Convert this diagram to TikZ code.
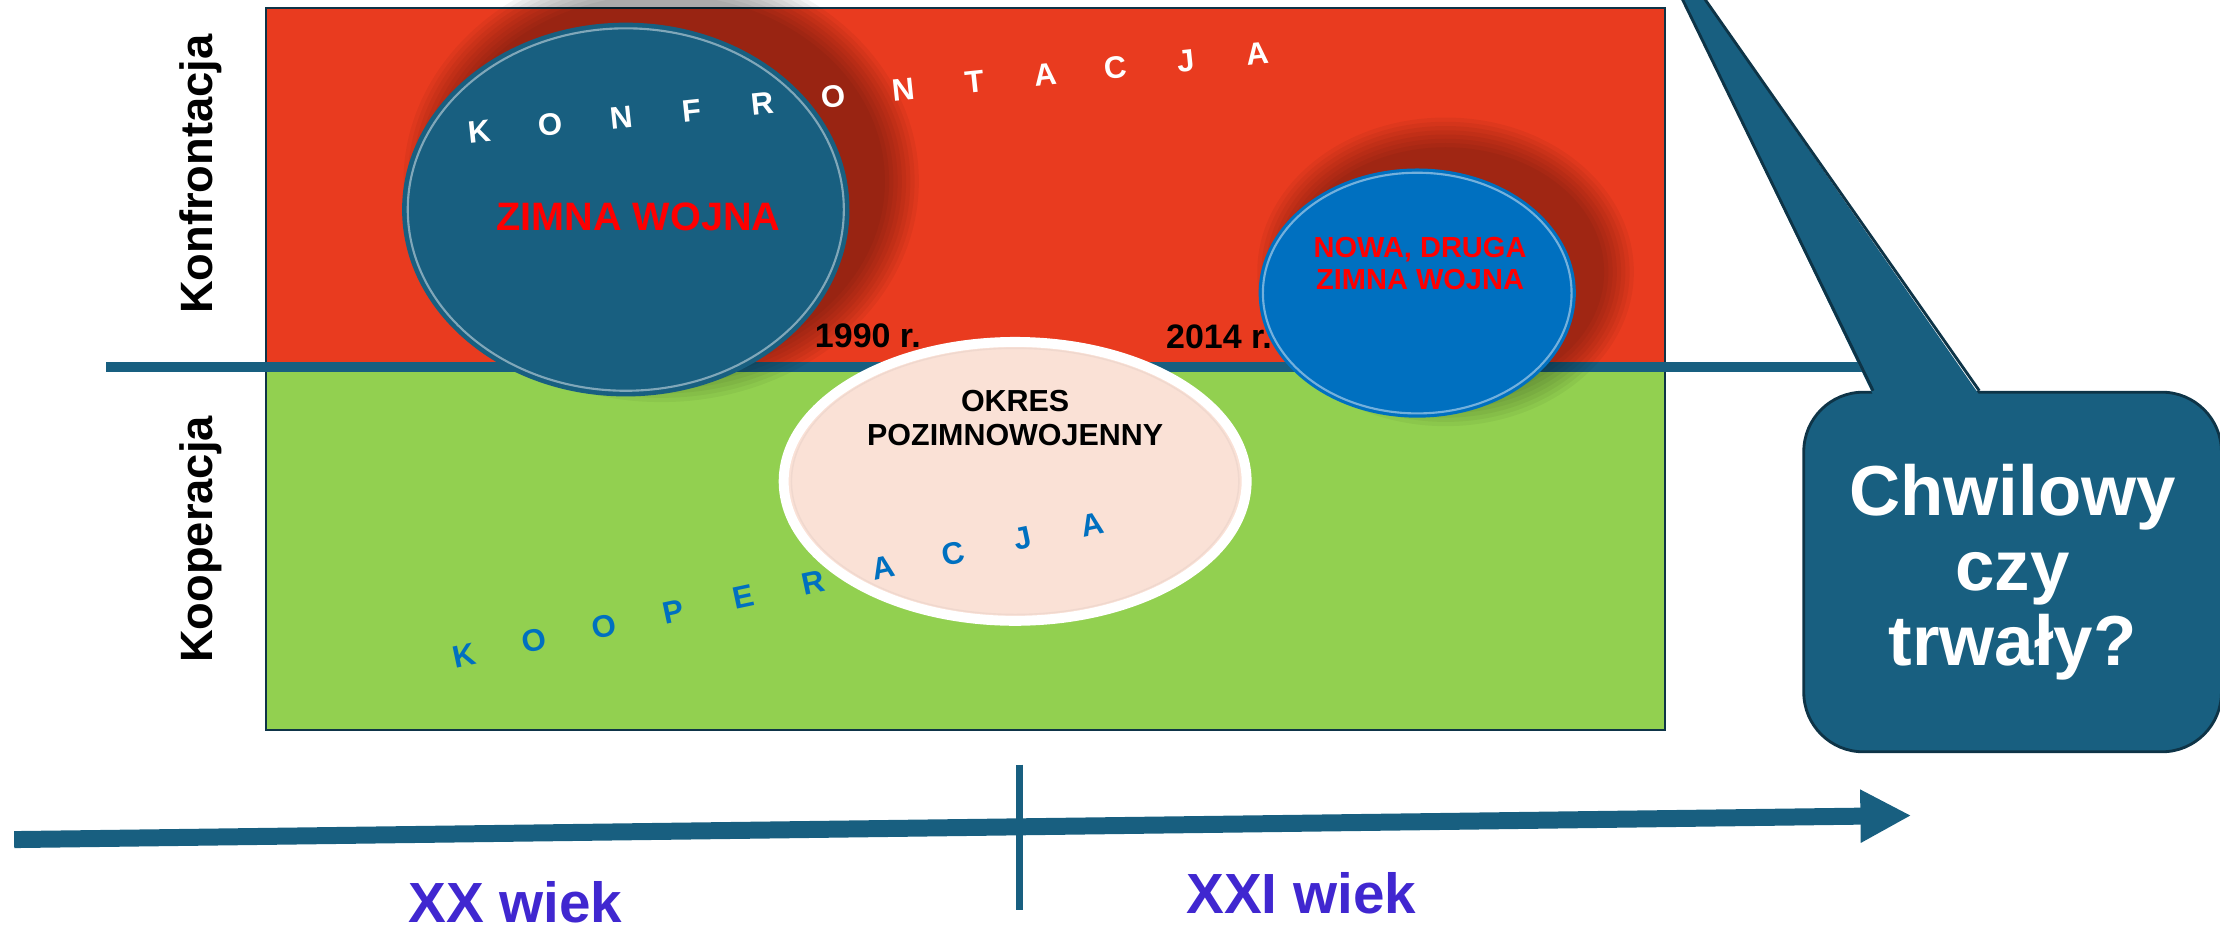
\documentclass[tikz,border=0pt]{standalone}
\usepackage{fontspec}
\setmainfont{Liberation Sans}
\usetikzlibrary{
  	positioning,
  	arrows.meta,
  	shapes.geometric
  }
\definecolor{konfred}{HTML}{E93B1F}
\definecolor{koopgreen}{HTML}{92D050}
\definecolor{petrol}{HTML}{185F80}
\definecolor{petroldark}{HTML}{0E3447}
\definecolor{ofblue}{HTML}{0070C0}
\definecolor{peach}{HTML}{FAE1D6}
\definecolor{wiekblue}{HTML}{4027D0}
\newcommand{\setfs}[2]{\fontsize{#1}{#2}\selectfont\bfseries}
\tikzstyle{field}=[draw=petroldark,line width=1.5pt,inner sep=0pt,anchor=north west]
\tikzstyle{oval}=[ellipse,inner sep=0pt]
\tikzstyle{side}=[font=\setfs{32}{34},rotate=90]
\tikzstyle{konfl}=[text=white,font=\setfs{22}{24},rotate=6,inner sep=0pt]
\tikzstyle{koopl}=[text=ofblue,font=\setfs{22}{24},rotate=12,inner sep=0pt]
\tikzstyle{wiek}=[text=wiekblue,font=\setfs{40}{44},inner sep=1pt]

\begin{document}
\begin{tikzpicture}[x=1pt,y=-1pt]
	\clip (0,0) rectangle (1568,658);
	\node[field,fill=konfred,minimum width=988pt,minimum height=254pt] (konf) at (187,5) {};
	\node[field,fill=koopgreen,minimum width=988pt,minimum height=254pt] (koop) at (187,261) {};
	\coordinate (axl) at (75,259);
	\coordinate (axr) at (1325,259);
	\draw[petrol,line width=7pt] (axl) -- (axr);
	\node[side] (lkonf) at (142,123) {Konfrontacja};
	\node[side] (lkoop) at (142,381) {Kooperacja};
	\foreach \s in {0,3,...,24}
		\fill[black,opacity=.045] (467,128) ellipse ({158+24-\s} and {132+24-\s});
	\node[oval,fill=petrol,minimum width=316pt,minimum height=264pt] (zw) at (442,148) {};
	\draw[white,opacity=.45,line width=1.5pt] (zw.center) ellipse (154 and 128);
	\node[text=red,font=\setfs{28}{30}] (zwt) at (451,153) {ZIMNA WOJNA};
	\node[font=\setfs{24}{26}] (d1990) at (613,237) {1990 r.};
	\node[font=\setfs{24}{26}] (d2014) at (861,238) {2014 r.};
	\node[oval,fill=peach,draw=white,line width=7pt,minimum width=327pt,minimum height=197pt] (pz) at (717,340) {};
	\draw[black!4!peach,line width=1pt] (pz.center) ellipse (158 and 94);
	\node[align=center,font=\setfs{21.5}{24}] (pzt) at (717,295) {OKRES\\POZIMNOWOJENNY};
	\foreach \s in {0,3,...,21}
		\fill[black,opacity=.045] (1021,192) ellipse ({112+21-\s} and {88+21-\s});
	\node[oval,fill=ofblue,minimum width=224pt,minimum height=176pt] (nz) at (1001,207) {};
	\draw[white,opacity=.45,line width=1.5pt] (nz.center) ellipse (109 and 85);
	\node[text=red,align=center,font=\setfs{20.5}{22.5}] (nzt) at (1003,186) {NOWA, DRUGA\\ ZIMNA WOJNA};
	\foreach \l [count=\i from 0] in {K,O,N,F,R,O,N,T,A,C,J,A}
		\node[konfl] (kf\i) at ({339+49.9*\i},{93-5*\i}) {\l};
	\foreach \l [count=\i from 0] in {K,O,O,P,E,R,A,C,J,A}
		\node[koopl] (kp\i) at ({328+49.3*\i},{463-10.3*\i}) {\l};
	\node[rectangle,rounded corners=42pt,fill=petrol,draw=petroldark,line width=2pt,text=white,align=center,font=\setfs{50}{53},minimum width=295pt,minimum height=254pt,anchor=north west] (q) at (1273,276) {Chwilowy\\czy\\trwały?};
	\coordinate (tl) at (1323,279);
	\coordinate (tr) at (1398,279);
	\coordinate (tip) at (1152,-75);
	\fill[petrol] (tl) -- (tip) -- (tr) -- cycle;
	\draw[petroldark,line width=2pt] ([yshift=3pt]tl) -- (tip) -- ([yshift=3pt]tr);
	\coordinate (t0) at (10,593);
	\coordinate (t1) at (1350,576);
	\draw[petrol,line width=12pt,-{Triangle[length=36pt,width=35pt]}] (t0) -- (t1);
	\coordinate (c0) at (720,540);
	\coordinate (c1) at (720,643);
	\draw[petrol,line width=5pt] (c0) -- (c1);
	\node[wiek] (xx) at (364,637) {XX wiek};
	\node[wiek] (xxi) at (919,631) {XXI wiek};
\end{tikzpicture}
\end{document}
